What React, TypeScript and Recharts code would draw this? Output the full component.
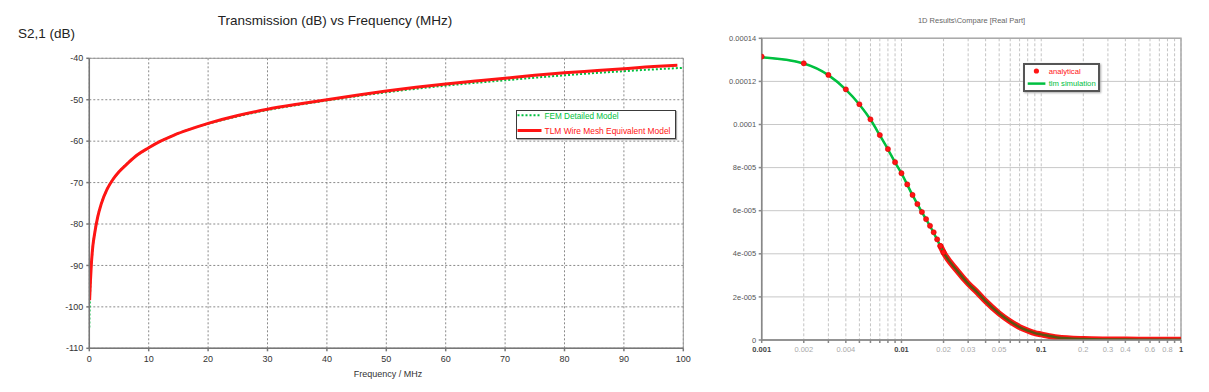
import React from 'react';
import { LineChart, Line, XAxis, YAxis, CartesianGrid, ReferenceArea } from 'recharts';

// ---------- Left chart data ----------
const freqTicks = [0, 10, 20, 30, 40, 50, 60, 70, 80, 90, 100];
const s21Ticks = [-110, -100, -90, -80, -70, -60, -50, -40];

const femFreq = [0, 0.03, 0.08, 0.15, 0.22, 0.45, 0.6, 0.9, 1.4, 2, 3, 5, 7, 10, 15, 20, 25, 30, 40, 50, 60, 70, 80, 90, 100];
const femDb = [-105, -102, -99, -96, -92.8, -88, -85.3, -82.2, -78.3, -75.1, -71.6, -67.4, -64.6, -61.6, -58.1, -55.8, -54.0, -52.5, -50.2, -48.2, -46.6, -45.3, -44.1, -43.1, -42.3];

const tlmFreq = [0.05, 0.2, 0.35, 0.6, 0.9, 1.4, 2, 3, 4, 5, 6.5, 8, 10, 12, 14, 16, 18, 20, 25, 30, 35, 40, 45, 50, 55, 60, 65, 70, 75, 80, 85, 90, 95, 99];
const tlmDb = [-98.4, -93.5, -89.6, -85.3, -82.3, -78.4, -75.2, -71.6, -69.2, -67.4, -65.3, -63.4, -61.6, -60.0, -58.7, -57.6, -56.6, -55.7, -53.8, -52.3, -51.1, -50.0, -48.9, -47.9, -47.0, -46.2, -45.5, -44.8, -44.1, -43.5, -43.0, -42.5, -42.0, -41.7];

const femData = femFreq.map((f, i) => ({ f, v: femDb[i] }));
const tlmData = tlmFreq.map((f, i) => ({ f, v: tlmDb[i] }));

// ---------- Right chart data ----------
const logTickValues = [
  0.001, 0.002, 0.003, 0.004, 0.005, 0.006, 0.007, 0.008, 0.009,
  0.01, 0.02, 0.03, 0.04, 0.05, 0.06, 0.07, 0.08, 0.09,
  0.1, 0.2, 0.3, 0.4, 0.5, 0.6, 0.7, 0.8, 0.9, 1,
];
const logTickLabels = [
  '0.001', '0.002', '', '0.004', '', '', '', '', '',
  '0.01', '0.02', '0.03', '', '0.05', '', '', '', '',
  '0.1', '0.2', '0.3', '0.4', '', '0.6', '', '0.8', '', '1',
];
const majorLogTicks = [0.001, 0.01, 0.1, 1];
const realTicks = [0, 0.00002, 0.00004, 0.00006, 0.00008, 0.0001, 0.00012, 0.00014];
const realTickLabels = ['0', '2e-005', '4e-005', '6e-005', '8e-005', '0.0001', '0.00012', '0.00014'];

const analyticalX = [
  0.001, 0.002, 0.003, 0.004, 0.005, 0.006, 0.007, 0.008, 0.009, 0.01,
  0.011, 0.012, 0.013, 0.014, 0.015, 0.016, 0.017, 0.018, 0.019, 0.02,
  0.025, 0.03, 0.035, 0.04, 0.05, 0.06, 0.07, 0.08, 0.09, 0.1,
  0.13, 0.2, 0.3, 0.5, 0.7, 1,
];
const analyticalY = [
  1.315e-4, 1.284e-4, 1.23e-4, 1.163e-4, 1.094e-4, 1.024e-4, 9.51e-5, 8.86e-5, 8.25e-5, 7.74e-5,
  7.22e-5, 6.73e-5, 6.31e-5, 5.94e-5, 5.61e-5, 5.3e-5, 5.0e-5, 4.67e-5, 4.36e-5, 4.07e-5,
  3.22e-5, 2.62e-5, 2.2e-5, 1.8e-5, 1.23e-5, 8.6e-6, 6.0e-6, 4.4e-6, 3.2e-6, 2.6e-6,
  1.2e-6, 4.6e-7, 2.5e-7, 1.5e-7, 1.2e-7, 1.0e-7,
];

const tlmSimX = [0.001, 0.002, 0.003, 0.004, 0.005, 0.006, 0.007, 0.008, 0.009, 0.01, 0.012, 0.014, 0.016, 0.018, 0.02, 0.025, 0.03, 0.04, 0.05, 0.07, 0.1, 0.2, 0.5, 1];
const tlmSimY = [1.312e-4, 1.283e-4, 1.229e-4, 1.162e-4, 1.093e-4, 1.023e-4, 9.5e-5, 8.85e-5, 8.24e-5, 7.73e-5, 6.72e-5, 5.93e-5, 5.29e-5, 4.66e-5, 4.06e-5, 3.21e-5, 2.61e-5, 1.79e-5, 1.22e-5, 5.9e-6, 2.5e-6, 4.5e-7, 1.5e-7, 1.0e-7];

const analyticalData = analyticalX.map((x, i) => ({ x, y: analyticalY[i] }));
const analyticalDots = analyticalData.filter((d) => d.x <= 0.02);
const analyticalBand = analyticalData.filter((d) => d.x >= 0.019);
const tlmSimData = tlmSimX.map((x, i) => ({ x, y: tlmSimY[i] }));

const RED = '#ff1414';
const GREEN = '#00c040';
const FONT = '"Liberation Sans", Arial, sans-serif';

const LogTick = (props: any) => {
  const { x, y, payload } = props;
  const idx = logTickValues.indexOf(payload.value);
  const label = idx >= 0 ? logTickLabels[idx] : '';
  if (!label) return null;
  const major = majorLogTicks.indexOf(payload.value) >= 0;
  return (
    <text x={x} y={y} dy="0.71em" textAnchor="middle" fontSize={7.5} fontWeight={major ? 'bold' : 'normal'} fill={major ? '#444' : '#aaa'} fontFamily={FONT}>
      {label}
    </text>
  );
};

export default function App() {
  return (
    <div style={{ position: 'absolute', left: 0, top: 0, width: 1209, height: 392, background: '#fff', fontFamily: FONT, overflow: 'hidden' }}>
      {/* Left chart */}
      <div style={{ position: 'absolute', left: 0, top: 12, width: 670, textAlign: 'center', fontSize: 13.5, lineHeight: '18px', color: '#222' }}>
        Transmission (dB) vs Frequency (MHz)
      </div>
      <div style={{ position: 'absolute', left: 18, top: 25, fontSize: 13.5, lineHeight: '18px', color: '#222' }}>S2,1 (dB)</div>
      <div style={{ position: 'absolute', left: 0, top: 0 }}>
        <LineChart width={700} height={392} margin={{ top: 58.3, right: 16.7, bottom: 18.7, left: 29.3 }}>
          <CartesianGrid stroke="#8a8a8a" strokeDasharray="2 2" />
          <XAxis
            type="number"
            dataKey="f"
            domain={[0, 100]}
            ticks={freqTicks}
            interval={0}
            height={25}
            tickSize={3}
            tickMargin={4}
            stroke="#777"
            strokeWidth={1.5}
            tick={{ fontSize: 9, fill: '#333' }}
            allowDataOverflow
          />
          <YAxis
            type="number"
            domain={[-110, -40]}
            ticks={s21Ticks}
            interval={0}
            width={60}
            tickSize={3}
            tickMargin={3}
            stroke="#777"
            strokeWidth={1.5}
            tick={{ fontSize: 9, fill: '#333' }}
            allowDataOverflow
          />
          <ReferenceArea x1={0} x2={100} y1={-110} y2={-40} fill="none" stroke="#999" strokeWidth={1} />
          <Line data={femData} dataKey="v" name="FEM Detailed Model" type="monotone" stroke={GREEN} strokeWidth={2} strokeDasharray="2 2" dot={false} isAnimationActive={false} />
          <Line data={tlmData} dataKey="v" name="TLM Wire Mesh Equivalent Model" type="monotone" stroke={RED} strokeWidth={3} dot={false} isAnimationActive={false} />
        </LineChart>
      </div>
      <div style={{ position: 'absolute', left: 288, top: 368, width: 200, textAlign: 'center', fontSize: 9, lineHeight: '12px', color: '#333' }}>
        Frequency / MHz
      </div>
      <div style={{ position: 'absolute', left: 516, top: 110, width: 160, height: 29, boxSizing: 'border-box', border: '1.5px solid #3a3a3a', background: '#fff', boxShadow: '1px 1px 1px #aaa' }}>
        <svg width={157} height={26} style={{ position: 'absolute', left: 0, top: 0, overflow: 'visible' }}>
          <line x1={0.5} x2={24.5} y1={4.3} y2={4.3} stroke={GREEN} strokeWidth={2} strokeDasharray="2 2" />
          <text x={27.5} y={7.6} fill={GREEN} fontSize={9.5} fontFamily={FONT} textLength={74} lengthAdjust="spacingAndGlyphs">FEM Detailed Model</text>
          <line x1={0.5} x2={24.5} y1={19.5} y2={19.5} stroke={RED} strokeWidth={3} />
          <text x={27.5} y={22.8} fill={RED} fontSize={9.5} fontFamily={FONT} textLength={126} lengthAdjust="spacingAndGlyphs">TLM Wire Mesh Equivalent Model</text>
        </svg>
      </div>

      {/* Right chart */}
      <div style={{ position: 'absolute', left: 870, top: 15.5, width: 203, textAlign: 'center', fontSize: 7.5, lineHeight: '10px', color: '#666' }}>
        1D Results\Compare [Real Part]
      </div>
      <div style={{ position: 'absolute', left: 700, top: 0 }}>
        <LineChart width={509} height={392} margin={{ top: 38.3, right: 28, bottom: 32, left: 11.7 }}>
          <CartesianGrid horizontal={false} stroke="#c4c4c4" strokeDasharray="3 2" />
          <CartesianGrid vertical={false} stroke="#c8c8c8" />
          <XAxis
            type="number"
            dataKey="x"
            scale="log"
            domain={[0.001, 1]}
            ticks={logTickValues}
            interval={0}
            height={20}
            tickSize={3}
            tickMargin={4}
            stroke="#888"
            strokeWidth={1.5}
            tick={<LogTick />}
            allowDataOverflow
          />
          <YAxis
            type="number"
            domain={[0, 0.00014]}
            ticks={realTicks}
            interval={0}
            width={50}
            tickSize={3}
            tickMargin={2.5}
            stroke="#888"
            strokeWidth={1.5}
            tickFormatter={(v: number) => realTickLabels[realTicks.indexOf(v)] ?? ''}
            tick={{ fontSize: 7.5, fill: '#555' }}
            allowDataOverflow
          />
          <ReferenceArea x1={0.001} x2={1} y1={0} y2={0.00014} fill="none" stroke="#aaa" strokeWidth={1.5} />
          <Line data={tlmSimData} dataKey="y" name="tlm simulation" type="monotone" stroke={GREEN} strokeWidth={2.5} dot={false} isAnimationActive={false} />
          <Line data={analyticalBand} dataKey="y" name="analytical" type="monotone" stroke={RED} strokeWidth={6} strokeLinecap="round" dot={false} isAnimationActive={false} legendType="none" />
          <Line data={analyticalBand} dataKey="y" name="analytical core" type="monotone" stroke="#5a5512" strokeWidth={2.5} dot={false} isAnimationActive={false} legendType="none" />
          <Line data={analyticalDots} dataKey="y" name="analytical" type="monotone" stroke="none" dot={{ r: 2.6, fill: RED, stroke: '#d00000', strokeWidth: 0.5 }} isAnimationActive={false} />
          <Line data={tlmSimData.filter((d) => d.x <= 0.02)} dataKey="y" name="tlm simulation core" type="monotone" stroke={GREEN} strokeWidth={1.2} dot={false} isAnimationActive={false} legendType="none" />
        </LineChart>
      </div>
      <div style={{ position: 'absolute', left: 1023, top: 62.7, width: 77, height: 29, boxSizing: 'border-box', border: '2px solid #555', background: '#fff', boxShadow: '1px 1px 2px #aaa' }}>
        <svg width={73} height={25} style={{ position: 'absolute', left: 0, top: 0, overflow: 'visible' }}>
          <circle cx={11.4} cy={6} r={2.6} fill={RED} />
          <text x={23.7} y={8.6} fill={RED} fontSize={7.5} fontFamily={FONT} textLength={32} lengthAdjust="spacingAndGlyphs">analytical</text>
          <line x1={2.7} x2={20.4} y1={18.6} y2={18.6} stroke={GREEN} strokeWidth={2.5} />
          <text x={23.7} y={21.2} fill={GREEN} fontSize={7.5} fontFamily={FONT} textLength={47} lengthAdjust="spacingAndGlyphs">tlm simulation</text>
        </svg>
      </div>
    </div>
  );
}
